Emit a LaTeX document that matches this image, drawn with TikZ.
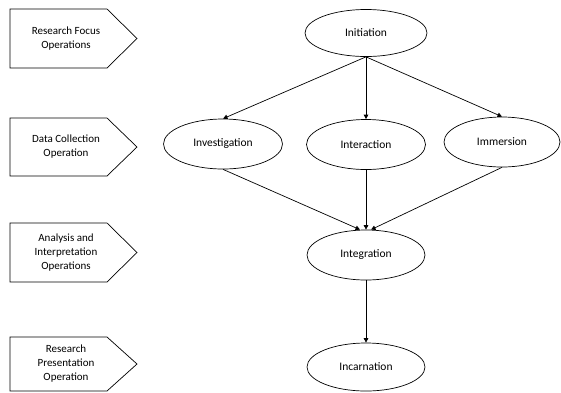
\documentclass[tikz,border=0pt]{standalone}
\usepackage{fontspec}
\setmainfont{Carlito}
\usetikzlibrary{shapes.geometric,arrows.meta}
\tikzset{
  stage/.style={ellipse, draw, line width=0.7pt, inner sep=0pt, font=\fontsize{11.5}{13}\selectfont},
  oplabel/.style={align=center, font=\fontsize{11}{14}\selectfont, inner sep=0pt},
  opshape/.style={draw, line width=0.7pt},
  arr/.style={-{Triangle[length=4.5pt,width=4.5pt]}, line width=0.7pt}
}
\begin{document}
\begin{tikzpicture}[x=1pt,y=-1pt]
\useasboundingbox (0,0) rectangle (561,392);
% operation pentagons
\draw[opshape] (10,9) -- (107,9) -- (137,38.5) -- (107,68) -- (10,68) -- cycle;
\draw[opshape] (10,118) -- (107,118) -- (137,147) -- (107,176) -- (10,176) -- cycle;
\draw[opshape] (10,223) -- (107,223) -- (137,252.5) -- (107,282) -- (10,282) -- cycle;
\draw[opshape] (10,337) -- (107,337) -- (137,364) -- (107,391) -- (10,391) -- cycle;
\node[oplabel] (op1) at (66,38.5) {Research Focus\\Operations};
\node[oplabel] (op2) at (66,147) {Data Collection\\Operation};
\node[oplabel] (op3) at (66,252.5) {Analysis and\\Interpretation\\Operations};
\node[oplabel] (op4) at (66,364) {Research\\Presentation\\Operation};
% stages
\node[stage, minimum width=122pt, minimum height=47pt] (init) at (366,33) {Initiation};
\node[stage, minimum width=119pt, minimum height=50pt] (inv) at (223,144) {Investigation};
\node[stage, minimum width=119pt, minimum height=50pt] (inter) at (366,144.5) {Interaction};
\node[stage, minimum width=116pt, minimum height=50pt] (imm) at (502,142) {Immersion};
\node[stage, minimum width=118pt, minimum height=50pt] (integ) at (366,255) {Integration};
\node[stage, minimum width=118pt, minimum height=48pt] (inc) at (366,367) {Incarnation};
% connectors
\draw[arr] (init.south) -- (inv.north);
\draw[arr] (init.south) -- (inter.north);
\draw[arr] (init.south) -- (imm.north);
\draw[arr] (inv.south) -- ([xshift=-6pt]integ.north);
\draw[arr] (inter.south) -- (integ.north);
\draw[arr] (imm.south) -- ([xshift=5pt]integ.north);
\draw[arr] (integ.south) -- (inc.north);
\end{tikzpicture}
\end{document}
